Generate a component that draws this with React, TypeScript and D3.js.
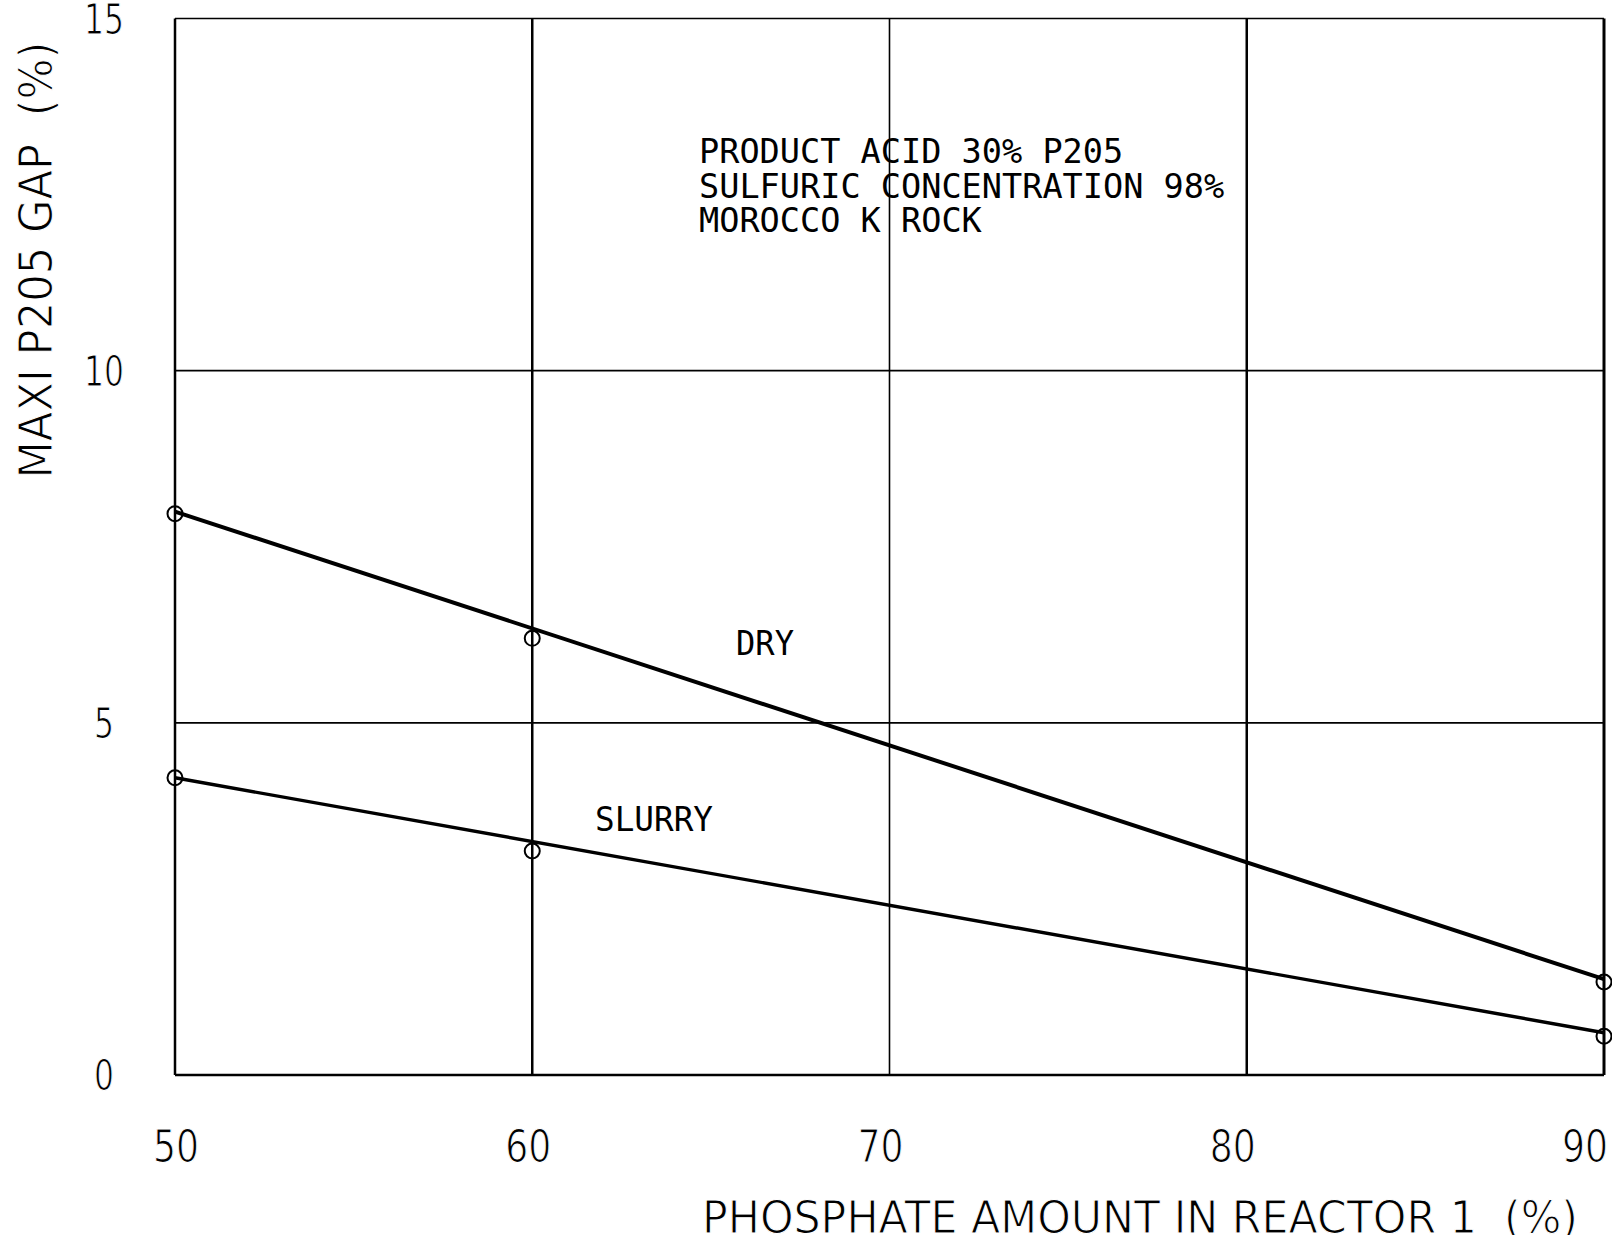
import React from 'react';
import * as d3 from 'd3';

// values
const xTicks = [50, 60, 70, 80, 90];
const yTicks = [0, 5, 10, 15];
const phosphate = [50, 60, 90];
const dryGap = [7.97, 6.2, 1.32];
const slurryGap = [4.22, 3.18, 0.55];
// fitted straight lines (end points)
const fitX = [50, 90];
const dryFit = [8.0, 1.36];
const slurryFit = [4.22, 0.6];
const notes = ['PRODUCT ACID 30% P205', 'SULFURIC CONCENTRATION 98%', 'MOROCCO K ROCK'];

const W = 1612;
const H = 1235;

const App = () => {
  const x = d3.scaleLinear().domain([50, 90]).range([175, 1604]);
  const y = d3.scaleLinear().domain([0, 15]).range([1075, 18.5]);
  // plotter put the x tick labels slightly left of the grid
  const xLab = d3.scaleLinear().domain([50, 90]).range([176, 1585]);

  const line = d3.line<[number, number]>()
    .x(d => x(d[0]))
    .y(d => y(d[1]));

  const font = 'DejaVu Sans, sans-serif';
  const mono = 'DejaVu Sans Mono, monospace';
  // white outline thins the glyphs to look like plotter pen strokes
  const thin = { stroke: '#fff', strokeWidth: 1.1 };

  // grid line widths (scan looks heavier on some lines)
  const vWidth: Record<number, number> = { 50: 2.5, 60: 2.5, 70: 1.6, 80: 2.5, 90: 3 };
  const hWidth: Record<number, number> = { 0: 2.5, 5: 1.6, 10: 1.6, 15: 1.6 };

  return (
    <svg width={W} height={H} style={{ position: 'absolute', left: 0, top: 0, background: '#fff' }}>
      <rect width={W} height={H} fill="#fff" />
      {xTicks.map(t => (
        <line key={'v' + t} x1={x(t)} x2={x(t)} y1={y(15)} y2={y(0)} stroke="#000" strokeWidth={vWidth[t]} />
      ))}
      {yTicks.map(t => (
        <line key={'h' + t} x1={x(50)} x2={x(90)} y1={y(t)} y2={y(t)} stroke="#000" strokeWidth={hWidth[t]} />
      ))}

      {/* tick labels */}
      {yTicks.map(t => (
        <text key={'yl' + t} x={104} y={y(t) + 15} textAnchor="middle" fontFamily={font} fontSize={42} {...thin}
          textLength={String(t).length * 20} lengthAdjust="spacingAndGlyphs">{t}</text>
      ))}
      {xTicks.map(t => (
        <text key={'xl' + t} x={xLab(t)} y={1162} textAnchor="middle" fontFamily={font} fontSize={44} {...thin}
          textLength={46} lengthAdjust="spacingAndGlyphs">{t}</text>
      ))}

      {/* axis titles */}
      <text transform="translate(52,260) rotate(-90)" textAnchor="middle" fontFamily={font} fontSize={46} {...thin}
        textLength={437} lengthAdjust="spacingAndGlyphs" style={{ whiteSpace: 'pre' }}>MAXI P205 GAP  (%)</text>
      <text x={702} y={1233} fontFamily={font} fontSize={45} {...thin}
        textLength={876} lengthAdjust="spacingAndGlyphs" style={{ whiteSpace: 'pre' }}>PHOSPHATE AMOUNT IN REACTOR 1  (%)</text>

      {/* fitted lines */}
      <path d={line(fitX.map((v, i) => [v, dryFit[i]]) as [number, number][]) || ''} fill="none" stroke="#000" strokeWidth={4} />
      <path d={line(fitX.map((v, i) => [v, slurryFit[i]]) as [number, number][]) || ''} fill="none" stroke="#000" strokeWidth={3.4} />

      {/* measured points */}
      {phosphate.map((p, i) => (
        <circle key={'d' + p} cx={x(p)} cy={y(dryGap[i])} r={7.5} fill="none" stroke="#000" strokeWidth={2} />
      ))}
      {phosphate.map((p, i) => (
        <circle key={'s' + p} cx={x(p)} cy={y(slurryGap[i])} r={7.5} fill="none" stroke="#000" strokeWidth={2} />
      ))}

      {/* labels */}
      <text x={736} y={655} fontFamily={mono} fontSize={33} textLength={58} lengthAdjust="spacingAndGlyphs">DRY</text>
      <text x={595} y={831} fontFamily={mono} fontSize={33} textLength={118} lengthAdjust="spacingAndGlyphs">SLURRY</text>
      {notes.map((n, i) => (
        <text key={n} x={699} y={163 + i * 34.5} fontFamily={mono} fontSize={33}
          textLength={n.length * 20.2} lengthAdjust="spacingAndGlyphs">{n}</text>
      ))}
    </svg>
  );
};

export default App;
